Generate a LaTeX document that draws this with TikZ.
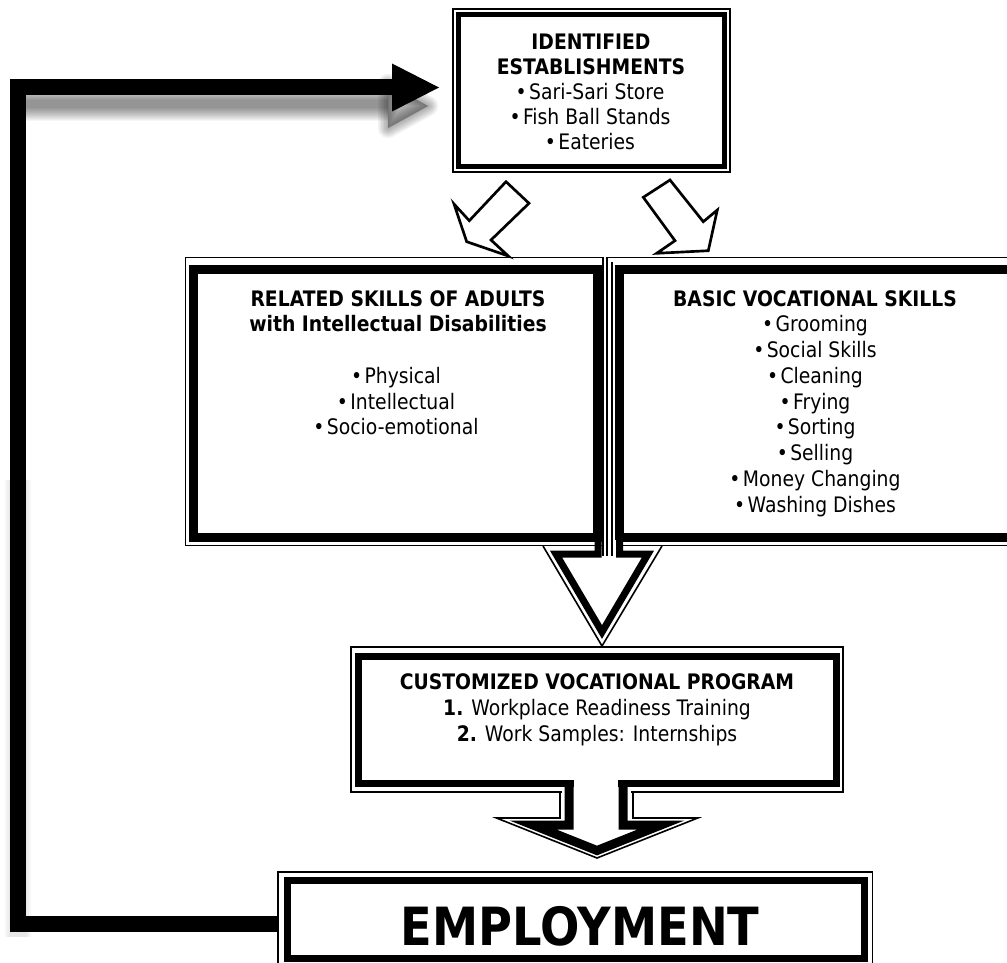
\documentclass[tikz,border=0pt]{standalone}
\usepackage{fontspec}
\setmainfont{DejaVu Sans}[FakeStretch=0.88]
\usetikzlibrary{arrows.meta,calc}
\newcommand\bul{•\kern1.8pt}
\begin{document}
\begin{tikzpicture}[x=0.75pt,y=-0.75pt,
  thinln/.style={line width=1.2pt},
  box/.style={draw=none,inner sep=0pt,outer sep=0pt,rectangle},
  txt/.style={inner sep=0pt,outer sep=0pt,anchor=base,font=\fontsize{16pt}{19pt}\selectfont},
  ttl/.style={inner sep=0pt,outer sep=0pt,anchor=base,font=\fontsize{16pt}{19pt}\selectfont\bfseries},
  harrow/.style={draw=black,line width=2pt,fill=white,line join=miter},
  fb/.style={line width=12pt,line join=miter,-{Triangle[length=35.25pt,width=36pt,line width=0pt]}},
  shd/.style={black,opacity=0.035,line join=round},
]
\useasboundingbox (0,0) rectangle (1007,963);
\fill[white] (0,0) rectangle (1007,963);

% ---------- boxes (geometry) ----------
\node[box,minimum width=207.75pt,minimum height=122.25pt] (top) at (591.5,90.5) {};
\node[box,minimum width=313.1pt,minimum height=216pt] (rel) at (394.25,401.5) {};
\node[box,minimum width=309.75pt,minimum height=216pt] (voc) at (813.5,401.5) {};
\node[box,minimum width=369.2pt,minimum height=108.75pt] (cust) at (596.85,719.5) {};
\node[box,minimum width=445.9pt,minimum height=77.25pt] (emp) at (575.25,923.5) {};

% ---------- feedback connector with shadow ----------
\coordinate (fbx) at (18,0);
\coordinate (fbend) at ([shift={(-14,-3)}]top.west);
\foreach \w in {34,32,30,28,26,24,22,20,18,16,14,12,10,8}{
  \draw[shd,line width=\w*0.75pt] (22,104) -- (388,104);
}
\foreach \w in {20,17,14,11,8,5,2}{
  \filldraw[shd,opacity=0.05,line width=\w*0.75pt] (388,84) -- (428,106) -- (388,128) -- cycle;
}
\foreach \w in {26,22,18}{
  \draw[shd,opacity=0.03,line width=\w*0.75pt] (18,480) -- (18,937);
}
\draw[fb] (emp.west) -- (emp.west -| fbx) -- (fbx |- fbend) -- (fbend);

% ---------- top box frame ----------
\draw[thinln] (top.north west) rectangle (top.south east);
\draw[line width=3.5pt] ([shift={(5.5,5.5)}]top.north west) rectangle ([shift={(-5.5,-5.5)}]top.south east);

% ---------- slanted hollow arrows ----------
\draw[harrow] (506,181.7) -- (529,203.3) -- (491,240) -- (508.3,256) -- (466.7,241.7) -- (454,204) -- (469.3,220.7) -- cycle;
\draw[harrow] (670,180) -- (703.3,221.7) -- (717.3,210) -- (708.3,250.7) -- (656.7,253.3) -- (675,240.7) -- (643.3,197.3) -- cycle;

% ---------- middle panels ----------
\draw[thinln] (rel.north west) rectangle (rel.south east);
\draw[line width=6.75pt] ([shift={(8,12)}]rel.north west) rectangle ([shift={(-5,-8)}]rel.south east);
\draw[thinln] (voc.north west) rectangle (voc.south east);
\draw[line width=6.75pt] ([shift={(12.5,11.5)}]voc.north west) rectangle ([shift={(20,-8)}]voc.south east);
\draw[thinln] (612,262) -- (612,548);

% arrow under the panels
\fill[white] (545,547.5) -- (602,643) -- (660,547.5) -- cycle;
\fill[white] (601.6,540) rectangle (615.8,560);
\draw[thinln] (603,540) -- (603,556);
\draw[thinln] (607,540) -- (607,556);
\draw[thinln] (612,540) -- (612,556);
\draw[thinln] (543,546) -- (602,646) -- (662,546);
\draw[line width=5.25pt,line join=miter] (598,536) -- (598,554) -- (556,554) -- (602,632) -- (648,554) -- (619.5,554) -- (619.5,536);

% ---------- customized box ----------
\draw[thinln] (cust.north west) rectangle (cust.south east);
\draw[line width=5.25pt] ([shift={(7.3,9.5)}]cust.north west) rectangle ([shift={(-6.5,-8.5)}]cust.south east);
\fill[white] (574,777) rectangle (618,800);
\fill[white] (562,790) rectangle (631,819);
\draw[thinln,line join=miter] (560,792) -- (560,818) -- (496.5,818) -- (597,858) -- (697.7,818) -- (633,818) -- (633,792);
\draw[line width=6.75pt,line join=miter] (569,783.5) -- (569,825) -- (533,825) -- (597,850.5) -- (661,825) -- (623,825) -- (623,783.5);

% ---------- employment box ----------
\draw[thinln] (emp.north west) rectangle (emp.south east);
\draw[line width=5.25pt] ([shift={(10,8)}]emp.north west) rectangle ([shift={(-8.5,-16.5)}]emp.south east);

% ---------- texts ----------
\node[ttl] (t1) at (591,50) {IDENTIFIED};
\node[ttl] (t2) at (591,75) {ESTABLISHMENTS};
\node[txt] (t3) at (590,100) {\bul Sari-Sari Store};
\node[txt] (t4) at (590,125) {\bul Fish Ball Stands};
\node[txt] (t5) at (590,150) {\bul Eateries};

\node[ttl] (r1) at (398,306.7) {RELATED SKILLS OF ADULTS};
\node[ttl] (r2) at (398,331.7) {with Intellectual Disabilities};
\node[txt] (r3) at (396,383.3) {\bul Physical};
\node[txt] (r4) at (396,409) {\bul Intellectual};
\node[txt] (r5) at (396,434.5) {\bul Socio-emotional};

\node[ttl] (v0) at (815,306) {BASIC VOCATIONAL SKILLS};
\foreach \t [count=\i] in {Grooming,Social Skills,Cleaning,Frying,Sorting,Selling,Money Changing,Washing Dishes}{
  \node[txt] (v\i) at (815,306+25.75*\i) {\bul \t};
}

\node[ttl] (c1) at (597,689) {CUSTOMIZED VOCATIONAL PROGRAM};
\node[txt] (c2) at (597,715) {\textbf{1.} Workplace Readiness Training};
\node[txt] (c3) at (597,741) {\textbf{2.} Work Samples: Internships};

\node[inner sep=0pt,anchor=base,font=\fontsize{39.5pt}{40pt}\selectfont\bfseries] (e1) at (580,945) {EMPLOYMENT};
\end{tikzpicture}
\end{document}
